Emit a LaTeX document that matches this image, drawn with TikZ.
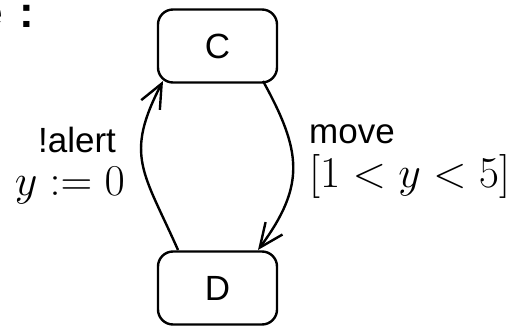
\RequirePackage{fix-cm}
\documentclass[tikz,border=0pt]{standalone}
\usepackage{fontspec}
\setmainfont{Liberation Sans}
\usetikzlibrary{arrows.meta}
\begin{document}
\begin{tikzpicture}[x=1pt,y=-1pt,
  state/.style={draw, line width=2.4pt, rounded corners=15pt,
    minimum width=119pt, minimum height=73pt, inner sep=0pt,
    font=\fontsize{35}{40}\selectfont},
  trans/.style={line width=2.4pt,
    -{Straight Barb[length=24pt,width=21pt,line width=2.4pt]}},
  lbl/.style={inner sep=0pt, font=\fontsize{35}{40}\selectfont},
  mlbl/.style={inner sep=0pt, font=\fontsize{44}{50}\selectfont},
  headtxt/.style={inner sep=0pt, font=\fontsize{44}{50}\selectfont\bfseries}]
  \useasboundingbox (0,0) rectangle (510,326);
  % heading fragment at the top edge
  \node[headtxt, anchor=base east] (he) at (3,28) {e};
  \node[headtxt, anchor=base west] (hc) at (19.5,28) {:};
  % locations
  \node[state] (C) at (217.5,46) {C};
  \node[state] (D) at (217.5,288) {D};
  % edge anchors on the box outlines
  \coordinate (dl) at (178,250);
  \coordinate (cl) at (163,81);
  \coordinate (cr) at (263,81);
  \coordinate (dr) at (258,250);
  % transitions
  \draw[trans] (dl) .. controls (143.5,172) and (124,156) .. (cl);
  \draw[trans] (cr) .. controls (301.5,151) and (306,185) .. (dr);
  % labels
  \node[lbl, anchor=base] (la) at (77,152) {!alert};
  \node[mlbl, anchor=base east] (lb) at (125,195) {$y := 0$};
  \node[lbl, anchor=base west] (ra) at (309,143) {move};
  \node[mlbl, anchor=base west] (rb) at (309,187) {$[1 < y < 5]$};
\end{tikzpicture}
\end{document}
